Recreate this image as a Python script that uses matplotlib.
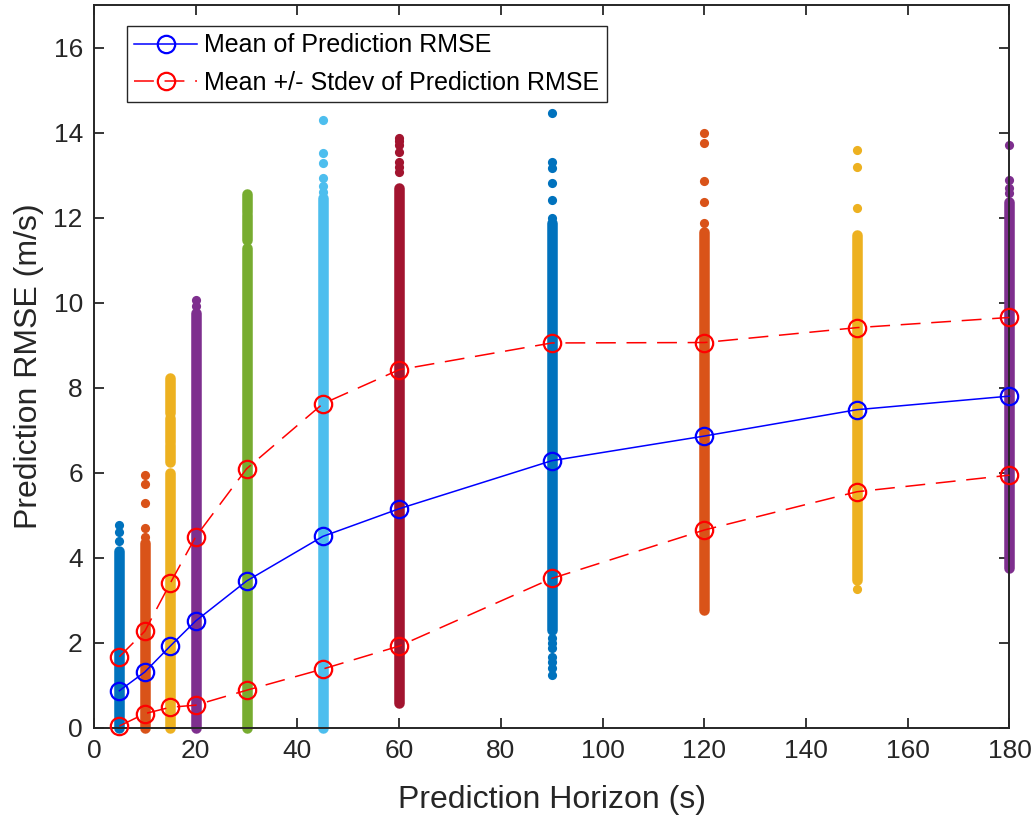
import matplotlib
matplotlib.use("Agg")
import matplotlib.pyplot as plt

plt.rcParams['font.family'] = ['Liberation Sans', 'DejaVu Sans']

# Prediction horizons (s)
horizons = [5, 10, 15, 20, 30, 45, 60, 90, 120, 150, 180]

# Mean and mean +/- stdev of prediction RMSE (m/s)
mean_rmse = [0.87, 1.31, 1.92, 2.51, 3.45, 4.50, 5.15, 6.28, 6.86, 7.48, 7.80]
upper_rmse = [1.67, 2.27, 3.40, 4.49, 6.09, 7.62, 8.42, 9.05, 9.06, 9.41, 9.65]
lower_rmse = [0.04, 0.33, 0.48, 0.53, 0.88, 1.38, 1.92, 3.51, 4.65, 5.55, 5.94]

# Individual RMSE samples: densely packed ranges and isolated points per horizon
dense_ranges = [
    [(0.0, 4.15)],
    [(0.0, 4.35)],
    [(0.0, 6.0), (6.25, 6.65), (6.72, 7.29), (7.4, 8.22)],
    [(0.0, 9.75)],
    [(0.0, 11.28), (11.47, 12.05), (12.12, 12.55)],
    [(0.0, 12.45)],
    [(0.58, 12.7)],
    [(2.3, 11.87)],
    [(2.77, 11.66)],
    [(3.47, 11.58)],
    [(3.76, 12.37)],
]
isolated_points = [
    [4.39, 4.60, 4.77],
    [4.49, 4.70, 5.29, 5.73, 5.94],
    [],
    [9.92, 10.05],
    [],
    [12.6, 12.75, 12.93, 13.28, 13.52, 14.3],
    [13.07, 13.2, 13.3, 13.55, 13.7, 13.8, 13.88],
    [1.24, 1.4, 1.55, 1.66, 1.87, 2.0, 2.12, 11.99, 12.42, 12.82, 13.17, 13.3, 14.46],
    [11.87, 12.37, 12.87, 13.76, 14.0],
    [3.26, 12.22, 13.2, 13.6],
    [12.57, 12.7, 12.88, 13.7],
]

xticks = list(range(0, 181, 20))
yticks = list(range(0, 17, 2))

matlab_colors = ['#0072BD', '#D95319', '#EDB120', '#7E2F8E', '#77AC30',
                 '#4DBEEE', '#A2142F']

fig = plt.figure(figsize=(10.36, 8.19), dpi=100)
ax = fig.add_axes([0.0907, 0.1115, 0.9744 - 0.0907, 0.9939 - 0.1115])

dense_pt = 7.6
dot_pt = 6.6
for i, h in enumerate(horizons):
    c = matlab_colors[i % len(matlab_colors)]
    for lo, hi in dense_ranges[i]:
        ax.plot([h, h], [lo, hi], color=c, lw=dense_pt, solid_capstyle='round',
                clip_on=False, zorder=2)
    if isolated_points[i]:
        ax.scatter([h] * len(isolated_points[i]), isolated_points[i], s=dot_pt ** 2,
                   color=c, linewidths=0, clip_on=False, zorder=2)

ax.plot(horizons, mean_rmse, color='#0000FF', lw=1.1, marker='o', ms=12.5,
        mfc='none', mew=1.6, label='Mean of Prediction RMSE', zorder=4, clip_on=False)
ax.plot(horizons, upper_rmse, color='#FF0000', lw=1.1, ls=(0, (13, 7)), marker='o',
        ms=12.5, mfc='none', mew=1.6, label='Mean +/- Stdev of Prediction RMSE',
        zorder=3, clip_on=False)
ax.plot(horizons, lower_rmse, color='#FF0000', lw=1.1, ls=(0, (13, 7)), marker='o',
        ms=12.5, mfc='none', mew=1.6, label='_nolegend_', zorder=3, clip_on=False)

ax.set_xlim(0, 180)
ax.set_ylim(0, 17)
ax.set_xticks(xticks)
ax.set_yticks(yticks)
ax.tick_params(direction='in', length=7, width=1.3, top=True, right=True,
               labelsize=19, colors='#262626', pad=8)
for sp in ax.spines.values():
    sp.set_linewidth(1.4)
    sp.set_color('#262626')
ax.set_xlabel('Prediction Horizon (s)', fontsize=23, color='#262626', labelpad=16)
ax.set_ylabel('Prediction RMSE (m/s)', fontsize=23, color='#262626', labelpad=7)

leg = ax.legend(loc='upper left', bbox_to_anchor=(0.036, 0.971), borderaxespad=0,
                fontsize=18, fancybox=False, edgecolor='#262626', framealpha=1,
                handlelength=2.5, handletextpad=0.3, labelspacing=0.54,
                borderpad=0.3)
leg.get_frame().set_linewidth(1.0)

fig.savefig('out.png', dpi=100)
